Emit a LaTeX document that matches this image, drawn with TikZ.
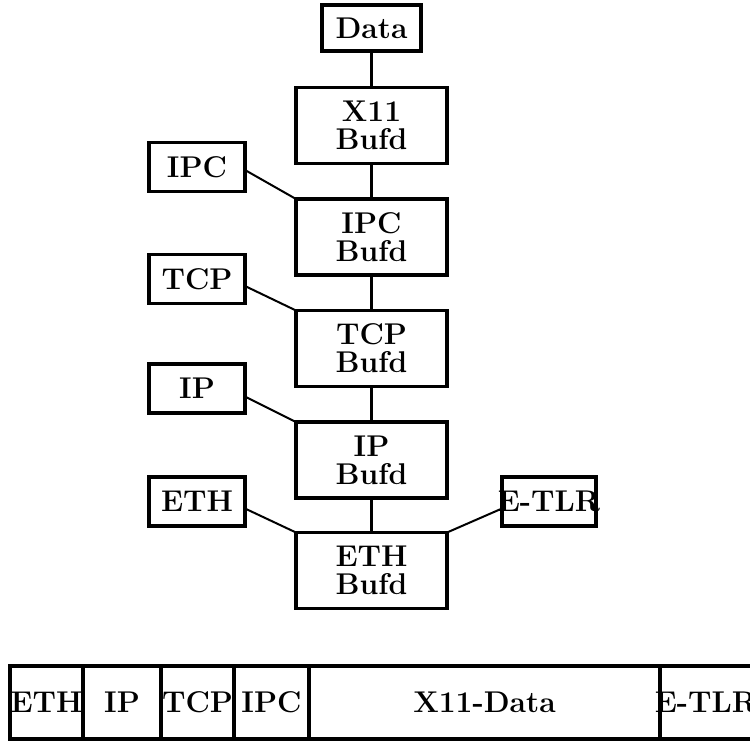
\documentclass[tikz,border=0pt]{standalone}
\usepackage{fontspec}
\newcommand{\lblfont}{\fontsize{30}{28}\selectfont\bfseries}
\begin{document}
\begin{tikzpicture}[x=1pt,y=-1pt,
  every node/.style={font=\lblfont, inner sep=0pt, outer sep=0pt},
  box/.style={draw, line width=3.2pt, align=center},
  bufd/.style={box, minimum width=151pt, minimum height=76pt},
  small/.style={box, minimum width=96pt, minimum height=49pt},
  cell/.style={draw, line width=3.2pt, minimum height=73pt},
  vlink/.style={line width=3.2pt},
  dlink/.style={line width=2pt}]
\useasboundingbox (0,0) rectangle (750,740);
% top chain
\node[box, minimum width=99pt, minimum height=46pt] (data) at (371.5,28) {Data};
\node[bufd] (x11b) at (371.5,125.5) {X11\\Bufd};
\node[bufd] (ipcb) at (371.5,237) {IPC\\Bufd};
\node[bufd] (tcpb) at (371.5,348.5) {TCP\\Bufd};
\node[bufd] (ipb)  at (371.5,460) {IP\\Bufd};
\node[bufd] (ethb) at (371.5,570.5) {ETH\\Bufd};
% side boxes
\node[small] (ipcs) at (197,167) {IPC};
\node[small] (tcps) at (197,279) {TCP};
\node[small] (ips)  at (197,388.5) {IP};
\node[small] (eths) at (197,501.5) {ETH};
\node[small, minimum width=94pt] (etlr) at (549,501.5) {\makebox[0pt]{E-TLR}};
% vertical links
\draw[vlink] (data.south) -- (x11b.north);
\draw[vlink] (x11b.south) -- (ipcb.north);
\draw[vlink] (ipcb.south) -- (tcpb.north);
\draw[vlink] (tcpb.south) -- (ipb.north);
\draw[vlink] (ipb.south) -- (ethb.north);
% diagonal links
\draw[dlink] ([yshift=-3pt]ipcs.east) -- (ipcb.north west);
\draw[dlink] ([yshift=-7pt]tcps.east) -- (tcpb.north west);
\draw[dlink] ([yshift=-8pt]ips.east) -- (ipb.north west);
\draw[dlink] ([yshift=-7pt]eths.east) -- (ethb.north west);
\draw[dlink] ([yshift=-7pt]etlr.west) -- (ethb.north east);
% frame bar
\node[cell, minimum width=73pt]  (cEth) at (46.5,702.5) {\makebox[0pt]{ETH}};
\node[cell, minimum width=78pt]  (cIp)  at (122,702.5) {IP};
\node[cell, minimum width=73pt]  (cTcp) at (197.5,702.5) {\makebox[0pt]{TCP}};
\node[cell, minimum width=75pt]  (cIpc) at (271.5,702.5) {\makebox[0pt]{IPC}};
\node[cell, minimum width=351pt] (cDat) at (484.5,702.5) {X11-Data};
\node[cell, minimum width=92pt]  (cTlr) at (706,702.5) {\makebox[0pt]{E-TLR}};
\end{tikzpicture}
\end{document}
